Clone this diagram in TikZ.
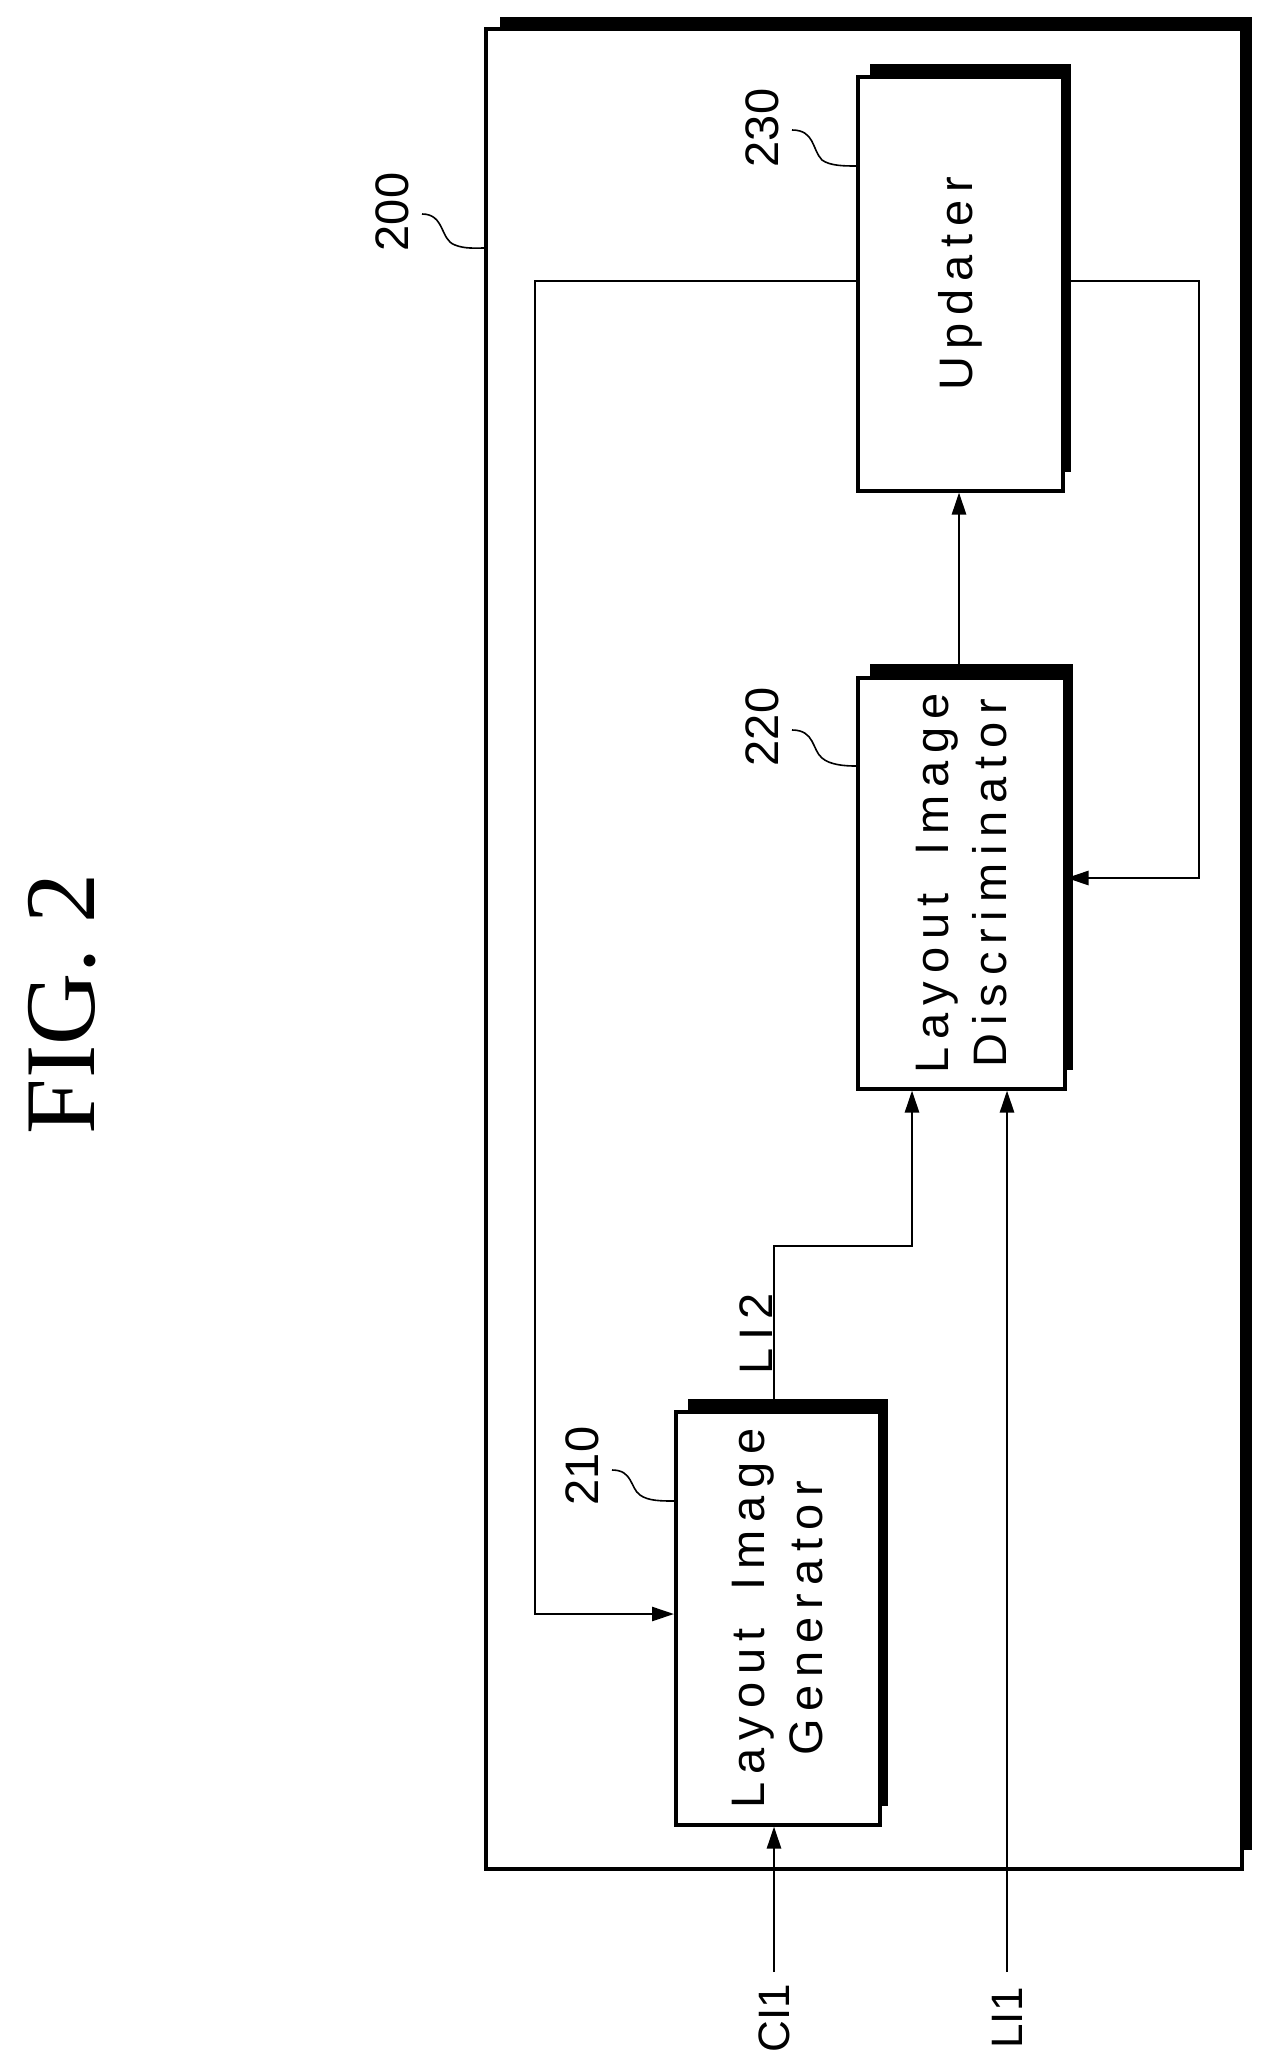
\documentclass[tikz,border=0pt]{standalone}
\usepackage{fontspec}
\setmainfont{Liberation Sans}
\newfontfamily\figfont{Liberation Serif}
\usetikzlibrary{arrows.meta}
\begin{document}
\begin{tikzpicture}[x=1pt,y=-1pt,
  conn/.style={line width=2.6pt},
  arr/.style={conn,-{Triangle[length=22pt,width=14pt]}},
  lbl/.style={rotate=90,font=\fontsize{47}{58}\selectfont,align=center},
  lead/.style={line width=1.6pt}]
\useasboundingbox (0,0) rectangle (1268,2058);
% outer box
\fill (500,17) rectangle (1252,29);
\fill (1242,17) rectangle (1252,1850);
\draw[line width=4pt] (486,29) rectangle (1242,1869);
% Updater
\fill (870,64) rectangle (1071,76);
\fill (1061,64) rectangle (1071,472);
\node[draw,line width=3.5pt,minimum width=205pt,minimum height=414pt,anchor=north west,inner sep=0] (upd) at (856,75) {};
\node[lbl] at (upd.center) {U\,p\,d\,a\,t\,e\,r};
% Discriminator
\fill (870,664) rectangle (1073,677);
\fill (1063,664) rectangle (1073,1070);
\node[draw,line width=3.5pt,minimum width=207pt,minimum height=411pt,anchor=north west,inner sep=0] (dis) at (856,676) {};
\node[lbl] at (dis.center) {L\,a\,y\,o\,u\,t\hspace{0.8em}I\,m\,a\,g\,e\\D\,i\,s\,c\,r\,i\,m\,i\,n\,a\,t\,o\,r};
% Generator
\fill (688,1399) rectangle (888,1411);
\fill (878,1399) rectangle (888,1806);
\node[draw,line width=3.5pt,minimum width=204pt,minimum height=413pt,anchor=north west,inner sep=0] (gen) at (674,1410) {};
\node[lbl] at (gen.center) {L\,a\,y\,o\,u\,t\hspace{0.8em}I\,m\,a\,g\,e\\G\,e\,n\,e\,r\,a\,t\,o\,r};
% connectors
\coordinate (fl1) at (535,281);
\coordinate (fl2) at (535,1614);
\draw[arr] (upd.west |- fl1) -- (fl1) -- (fl2) -- (gen.west |- fl2);
\coordinate (fr1) at (1199,281);
\coordinate (fr2) at (1199,878);
\draw[arr] (upd.east |- fr1) -- (fr1) -- (fr2) -- (dis.east |- fr2);
\draw[arr] (dis.north -| 959,0) -- (upd.south -| 959,0);
\coordinate (l2a) at (774,1246);
\coordinate (l2b) at (912,1246);
\draw[arr] (gen.north -| l2a) -- (l2a) -- (l2b) -- (dis.south -| l2b);
\node[lbl] (li2) at (756,1334) {L\,I\,2};
\coordinate (ci1s) at (774,1972);
\draw[arr] (ci1s) -- (gen.south -| ci1s);
\node[lbl,font=\fontsize{44}{52}\selectfont] (ci1) at (774,2018) {CI1};
\coordinate (li1s) at (1007,1972);
\draw[arr] (li1s) -- (dis.south -| li1s);
\node[lbl,font=\fontsize{44}{52}\selectfont] (li1) at (1007,2018) {LI1};
% reference numerals
\node[lbl] (n200) at (392,212) {200};
\draw[lead] (422,214) .. controls (445,214) and (440,240) .. (455,245) .. controls (465,249) and (475,248) .. (486,248);
\node[lbl] (n230) at (762,128) {230};
\draw[lead] (792,130) .. controls (815,130) and (812,150) .. (822,160) .. controls (830,166) and (845,166) .. (856,166);
\node[lbl] (n220) at (762,727) {220};
\draw[lead] (792,730) .. controls (815,730) and (812,750) .. (822,758) .. controls (830,765) and (845,766) .. (856,766);
\node[lbl] (n210) at (582,1466) {210};
\draw[lead] (612,1470) .. controls (633,1470) and (630,1488) .. (640,1495) .. controls (648,1501) and (662,1501) .. (674,1501);
% title
\node[rotate=90,font=\figfont\fontsize{100}{110}\selectfont] (fig) at (62,1004) {FIG.\ 2};
\end{tikzpicture}
\end{document}
